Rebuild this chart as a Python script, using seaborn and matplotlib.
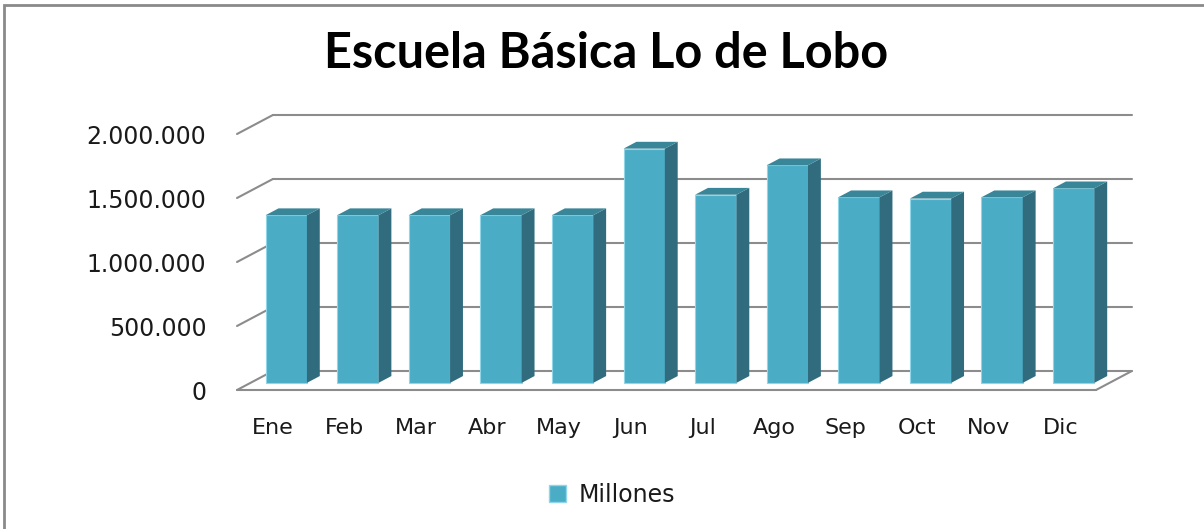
import matplotlib
matplotlib.use('Agg')
import matplotlib.pyplot as plt
import matplotlib.transforms as mtrans
from matplotlib.patches import Polygon, Rectangle, Patch
import pandas as pd
import seaborn as sns

# datos
meses = ['Ene', 'Feb', 'Mar', 'Abr', 'May', 'Jun',
         'Jul', 'Ago', 'Sep', 'Oct', 'Nov', 'Dic']
millones = [1310000, 1310000, 1310000, 1310000, 1310000, 1830000,
            1470000, 1700000, 1450000, 1440000, 1450000, 1520000]
ticks_y = [0, 500000, 1000000, 1500000, 2000000]
etiquetas_y = ['0', '500.000', '1.000.000', '1.500.000', '2.000.000']
titulo = 'Escuela Básica Lo de Lobo'
serie = 'Millones'

# colores estilo excel
frente = '#4bacc6'
lado = '#316c7e'
tapa = '#3a8699'
gris = '#8c8c8c'

# profundidad del "3d" (datos)
PX = 0.50
PY = 148000
f0 = 0.376   # donde empieza la barra en profundidad
fd = 0.36    # cuanto fondo tiene la barra

sns.set_style('white')
plt.rcParams['font.family'] = ['DejaVu Sans']

fig = plt.figure(figsize=(12.04, 5.29), dpi=100)
ax = fig.add_axes([237 / 1204, 1 - 390 / 529, 859 / 1204, 256 / 529])

df = pd.DataFrame({'mes': meses, 'valor': millones})
sns.barplot(data=df, x='mes', y='valor', color=frente, saturation=1,
            width=0.577, edgecolor='#8fd6e8', linewidth=0.8, ax=ax, zorder=3)

ax.set_xlim(-0.5, len(meses) - 0.5)
ax.set_ylim(0, 2000000)

# lineas de cuadricula en pared del fondo
for v in ticks_y:
    ax.plot([-0.5, -0.5 + PX], [v, v + PY], color=gris, lw=1.5,
            clip_on=False, zorder=1)
    ax.plot([-0.5 + PX, len(meses) - 0.5 + PX], [v + PY, v + PY],
            color=gris, lw=1.5, clip_on=False, zorder=1)
# piso
ax.plot([-0.5, len(meses) - 0.5], [0, 0], color=gris, lw=1.5,
        clip_on=False, zorder=1)
ax.plot([len(meses) - 0.5, len(meses) - 0.5 + PX], [0, PY], color=gris,
        lw=1.5, clip_on=False, zorder=1)

# caras laterales y tapas
desp = mtrans.Affine2D().translate(f0 * PX, f0 * PY) + ax.transData
for p in ax.patches:
    p.set_transform(desp)
    p.set_clip_on(False)
    x0 = p.get_x() + f0 * PX
    w = p.get_width()
    h = p.get_height()
    y0 = f0 * PY
    dx, dy = fd * PX, fd * PY
    ax.add_patch(Polygon([(x0 + w, y0), (x0 + w + dx, y0 + dy),
                          (x0 + w + dx, h + y0 + dy), (x0 + w, h + y0)],
                         closed=True, facecolor=lado, edgecolor='none',
                         zorder=3, clip_on=False))
    ax.add_patch(Polygon([(x0, h + y0), (x0 + w, h + y0),
                          (x0 + w + dx, h + y0 + dy), (x0 + dx, h + y0 + dy)],
                         closed=True, facecolor=tapa, edgecolor='none',
                         zorder=3, clip_on=False))

ax.set_yticks(ticks_y, etiquetas_y)
ax.tick_params(axis='y', length=0, pad=22, labelsize=17, labelcolor='#1a1a1a')
ax.tick_params(axis='x', length=0, pad=20, labelsize=16, labelcolor='#1a1a1a')
ax.set_xlabel('')
ax.set_ylabel('')
for s in ax.spines.values():
    s.set_visible(False)
ax.patch.set_alpha(0)

fig.text(0.503, 1 - 54 / 529, titulo, ha='center', va='center', color='black',
         fontsize=35, fontweight='bold', family=['Lato', 'DejaVu Sans'])

fig.legend(handles=[Patch(facecolor=frente, edgecolor='#8fd6e8', label=serie)],
           loc='center', bbox_to_anchor=(0.508, 1 - 495 / 529), frameon=False,
           fontsize=17, handlelength=0.75, handleheight=0.75, handletextpad=0.5,
           labelcolor='#1a1a1a')

# borde del grafico
fig.add_artist(Rectangle((4 / 1204, -0.1), 2, 1 - 5 / 529 + 0.1,
                         transform=fig.transFigure, fill=False,
                         edgecolor='#8a8a8a', lw=2))

fig.savefig('out.png', dpi=100)
